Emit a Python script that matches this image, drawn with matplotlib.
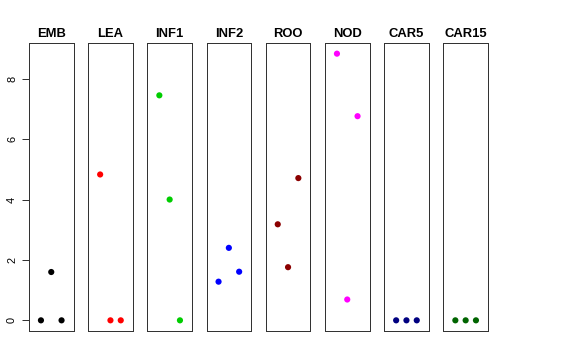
import matplotlib
matplotlib.use("Agg")
import matplotlib.pyplot as plt

categories = ["EMB", "LEA", "INF1", "INF2", "ROO", "NOD", "CAR5", "CAR15"]
values = [
    [0.0, 1.6, 0.0],
    [4.83, 0.0, 0.0],
    [7.45, 4.0, 0.0],
    [1.28, 2.4, 1.61],
    [3.18, 1.76, 4.71],
    [8.83, 0.69, 6.76],
    [0.0, 0.0, 0.0],
    [0.0, 0.0, 0.0],
]
colors = ["#000000", "#FF0000", "#00CD00", "#0000FF", "#8B0000", "#FF00FF", "#000080", "#006400"]
yticks = [0, 2, 4, 6, 8]

W, H = 576, 360
fig = plt.figure(figsize=(W / 72, H / 72), dpi=72)
plt.rcParams['font.family'] = ['Liberation Sans', 'DejaVu Sans']

left0 = 29.0
pw = 44.5
step = 59.2
top = 43.0
bottom = 331.0
ymax = max(max(v) for v in values)
pad = 0.04 * ymax

for i, (cat, vals, col) in enumerate(zip(categories, values, colors)):
    l = left0 + i * step
    ax = fig.add_axes([l / W, (H - bottom) / H, pw / W, (bottom - top) / H])
    xs = list(range(1, len(vals) + 1))
    ax.scatter(xs, vals, s=38, color=col, edgecolors='none', zorder=3)
    ax.set_xlim(-0.16, 4.16)
    ax.set_ylim(-pad, ymax + pad)
    ax.set_xticks([])
    for sp in ax.spines.values():
        sp.set_color('#333333')
        sp.set_linewidth(1.0)
    ax.set_title(cat, fontsize=13, fontweight='bold', pad=6)
    if i == 0:
        ax.set_yticks(yticks)
        ax.set_yticklabels([str(t) for t in yticks], rotation=90, va='center', fontsize=11)
        ax.tick_params(axis='y', length=7, width=1, color='#333333', pad=5)
    else:
        ax.set_yticks([])

fig.savefig("out.png", dpi=72)
